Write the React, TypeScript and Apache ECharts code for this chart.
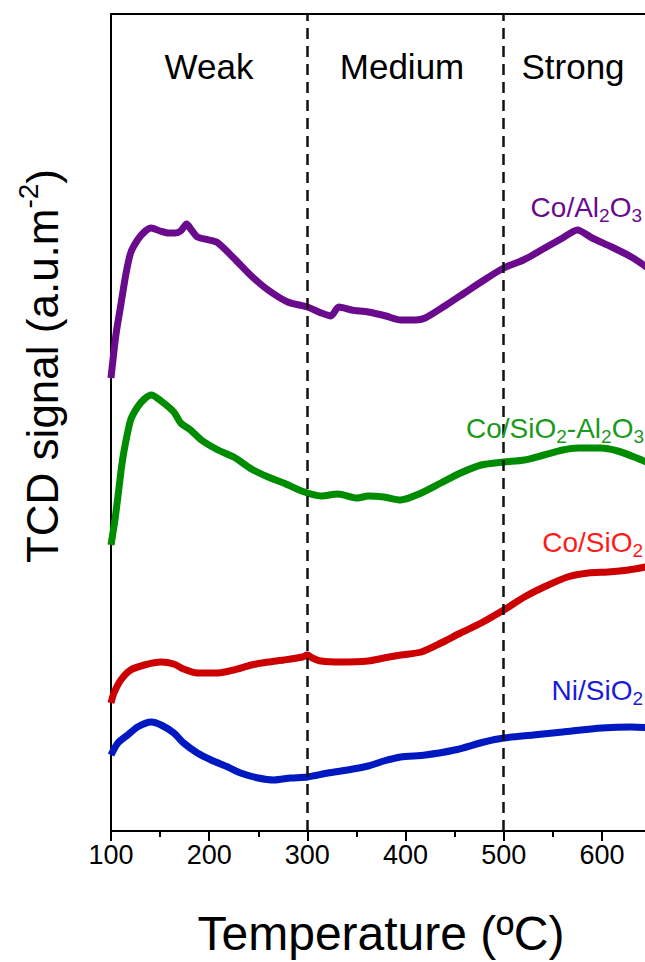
import React, { useEffect, useRef } from "react";
import * as echarts from "echarts";

// Temperatures (ºC) and TCD signal (a.u.)
const coAlT = [100, 105, 110, 115, 120, 127, 135, 141, 150, 158, 165, 171, 177, 182, 188, 200, 209, 225, 243, 260, 280, 300, 314, 324, 332, 345, 362, 380, 395, 410, 420, 440, 460, 480, 500, 520, 540, 560, 575, 590, 610, 630, 650];
const coAlV = [453, 496, 526, 556, 578, 591, 600, 603, 600, 598, 598, 600, 607, 601, 594, 591, 588, 573, 555, 541, 529, 524, 518, 515, 524, 521, 519, 515, 511, 511, 513, 525, 538, 551, 563, 571, 582, 593, 601, 593, 584, 574, 561];

const coSiAlT = [100, 104, 107, 111, 114, 120, 127, 134, 141, 151, 164, 171, 181, 192, 209, 225, 243, 260, 276, 294, 314, 331, 351, 362, 378, 395, 416, 436, 456, 477, 500, 521, 541, 560, 576, 599, 616, 633, 650];
const coSiAlV = [286, 311, 334, 366, 384, 411, 424, 432, 436, 430, 419, 408, 401, 391, 381, 374, 362, 354, 348, 340, 335, 337, 333, 335, 334, 331, 338, 348, 358, 366, 369, 371, 376, 381, 383, 383, 380, 374, 367];

const coSiT = [100, 103, 110, 120, 134, 151, 164, 174, 188, 209, 225, 243, 260, 276, 295, 300, 305, 314, 334, 362, 378, 395, 416, 436, 456, 477, 500, 521, 541, 565, 586, 606, 627, 650];
const coSiV = [128, 138, 151, 161, 166, 169, 167, 162, 158, 158, 161, 166, 169, 171, 174, 176, 173, 170, 169, 170, 173, 176, 179, 188, 198, 208, 221, 234, 244, 254, 258, 259, 261, 265];

const niSiT = [100, 107, 117, 127, 141, 151, 164, 174, 188, 202, 219, 232, 250, 266, 283, 300, 321, 341, 362, 378, 395, 420, 450, 480, 500, 530, 560, 600, 630, 650];
const niSiV = [76, 88, 96, 104, 109, 106, 98, 88, 78, 71, 64, 58, 53, 51, 53, 54, 58, 61, 65, 70, 74, 76, 81, 89, 93, 96, 99, 103, 104, 103];

const xTicks = [100, 200, 300, 400, 500, 600];
const regionBounds = [300, 500];
const regionNames = ["Weak", "Medium", "Strong"];

const zip = (t: number[], v: number[]) => t.map((x, i) => [x, v[i]]);

export default function App() {
  const ref = useRef<HTMLDivElement>(null);
  useEffect(() => {
    if (!ref.current) return;
    const chart = echarts.init(ref.current, null, { renderer: "svg" });
    const font = "Liberation Sans, Arial, sans-serif";
    const mkSeries = (name: string, t: number[], v: number[], color: string, extra: any = {}) => ({
      name,
      type: "line",
      data: zip(t, v),
      showSymbol: false,
      symbol: "none",
      smooth: 0.25,
      lineStyle: { color, width: 7 },
      z: 3,
      ...extra,
    });
    const subRich = (color: string, size: number) => ({
      a: { fontSize: size, fill: color, fontFamily: font, lineHeight: size * 1.3, verticalAlign: "middle" },
      s: { fontSize: size * 0.68, fill: color, fontFamily: font, verticalAlign: "bottom", lineHeight: size * 1.3 },
    });
    const label = (text: string, x: number, y: number, color: string) => ({
      type: "text",
      x,
      y,
      z: 10,
      style: {
        text,
        fill: color,
        align: "right",
        verticalAlign: "middle",
        rich: subRich(color, 28),
      },
    });
    chart.setOption({
      animation: false,
      backgroundColor: "#fff",
      grid: {
        left: 111,
        top: 14,
        right: 9,
        bottom: 131,
        show: true,
        borderColor: "#000",
        borderWidth: 2,
        backgroundColor: "transparent",
      },
      xAxis: {
        type: "value",
        min: 100,
        max: 650,
        interval: 100,
        name: "Temperature (ºC)",
        nameLocation: "middle",
        nameGap: 78,
        nameTextStyle: { fontSize: 48, color: "#000", fontFamily: font },
        axisLine: { show: true, lineStyle: { color: "#000", width: 2 } },
        axisTick: { show: true, length: 10, lineStyle: { color: "#000", width: 2 } },
        minorTick: { show: true, splitNumber: 2, length: 6, lineStyle: { color: "#000", width: 2 } },
        axisLabel: {
          fontSize: 27,
          color: "#000",
          fontFamily: font,
          margin: 10,
          showMaxLabel: false,
          formatter: (v: number) => (xTicks.includes(v) ? String(v) : ""),
        },
        splitLine: { show: false },
      },
      yAxis: {
        type: "value",
        min: 0,
        max: 817,
        axisLine: { show: true, lineStyle: { color: "#000", width: 2 } },
        axisTick: { show: false },
        axisLabel: { show: false },
        splitLine: { show: false },
      },
      series: [
        mkSeries("Co/Al2O3", coAlT, coAlV, "#6a0a8c", {
          markLine: {
            silent: true,
            symbol: "none",
            label: { show: false },
            lineStyle: { color: "#111", width: 2.5, type: [11, 7] },
            data: regionBounds.map((b) => ({ xAxis: b })),
          },
        }),
        mkSeries("Co/SiO2-Al2O3", coSiAlT, coSiAlV, "#008c00"),
        mkSeries("Co/SiO2", coSiT, coSiV, "#cc0000"),
        mkSeries("Ni/SiO2", niSiT, niSiV, "#0018c0"),
      ],
      graphic: [
        {
          type: "text",
          x: 42,
          y: 366,
          rotation: Math.PI / 2,
          style: {
            text: "{a|TCD signal (a.u.m}{s|-2}{a|)}",
            align: "center",
            verticalAlign: "middle",
            rich: {
              a: { fontSize: 44, fill: "#000", fontFamily: font, lineHeight: 56, verticalAlign: "middle" },
              s: { fontSize: 28, fill: "#000", fontFamily: font, lineHeight: 56, verticalAlign: "top" },
            },
          },
        },
        ...regionNames.map((n, i) => ({
          type: "text",
          x: [209, 402, 573][i],
          y: 66,
          style: { text: n, align: "center", verticalAlign: "middle", fontSize: 35, fill: "#000", fontFamily: font },
        })),
        label("{a|Co/Al}{s|2}{a|O}{s|3}", 642, 207, "#6a0a8c"),
        label("{a|Co/SiO}{s|2}{a|-Al}{s|2}{a|O}{s|3}", 644, 428, "#1a9a1a"),
        label("{a|Co/SiO}{s|2}", 643, 542, "#ff1a1a"),
        label("{a|Ni/SiO}{s|2}", 643, 690, "#1a1ad8"),
      ],
    });
    return () => chart.dispose();
  }, []);
  return (
    <div style={{ position: "fixed", left: 0, top: 0, width: 645, height: 962, overflow: "hidden", background: "#fff" }}>
      <div ref={ref} style={{ width: 660, height: 962 }} />
    </div>
  );
}
